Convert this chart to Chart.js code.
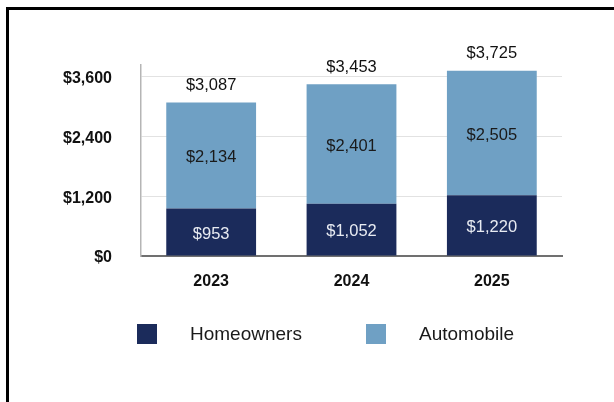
<!DOCTYPE html>
<html>
<head>
<meta charset="utf-8">
<script src="https://cdn.jsdelivr.net/npm/chart.js@4"></script>
<style>
  html, body { margin: 0; padding: 0; background: #fff; }
  body { width: 614px; height: 402px; position: relative; overflow: hidden; font-family: "Liberation Sans", Arial, sans-serif; }
  #frame { position: absolute; left: 6px; top: 7px; width: 700px; height: 500px; border: 3px solid #000; box-sizing: border-box; }
  #wrap { position: absolute; left: 0; top: 0; width: 614px; height: 402px; }
  .legend-item { position: absolute; top: 324px; height: 20px; }
  .legend-box { position: absolute; left: 0; top: 0; width: 20px; height: 20px; }
  .legend-text { position: absolute; top: -1px; font-size: 19px; line-height: 22px; color: #1a1a1a; white-space: nowrap; }
</style>
</head>
<body>
<div id="frame"></div>
<div id="wrap"><canvas id="chart" width="614" height="402"></canvas></div>
<div id="legend"></div>
<script>
// Premiums by line of business
const years = ['2023', '2024', '2025'];
const homeowners = [953, 1052, 1220];
const automobile = [2134, 2401, 2505];
const totals = [3087, 3453, 3725];
const yTicks = [0, 1200, 2400, 3600];

const NAVY = '#1b2b5b';
const SKY = '#6fa0c4';
const FONT = '"Liberation Sans", Arial, sans-serif';

const money = v => '$' + v.toLocaleString('en-US');

// ── VALUE LABELS ───────────────────────────────────────────────────────
const valueLabels = {
  id: 'valueLabels',
  afterDatasetsDraw(chart) {
    const ctx = chart.ctx;
    ctx.save();
    ctx.font = '16.5px ' + FONT;
    ctx.textAlign = 'center';
    ctx.textBaseline = 'middle';
    chart.data.datasets.forEach((ds, di) => {
      const meta = chart.getDatasetMeta(di);
      meta.data.forEach((bar, i) => {
        const mid = (bar.y + bar.base) / 2;
        ctx.fillStyle = di === 0 ? '#e8ebf2' : '#1a1a1a';
        ctx.fillText(money(ds.data[i]), bar.x, mid + 2);
      });
    });
    // totals above each stack
    const top = chart.getDatasetMeta(chart.data.datasets.length - 1);
    const y = chart.scales.y;
    ctx.fillStyle = '#111';
    top.data.forEach((bar, i) => {
      ctx.fillText(money(totals[i]), bar.x, y.getPixelForValue(totals[i]) - 17);
    });
    ctx.restore();
  }
};

const chart = new Chart(document.getElementById('chart'), {
  type: 'bar',
  data: {
    labels: years,
    datasets: [
      { label: 'Homeowners', data: homeowners, backgroundColor: NAVY },
      { label: 'Automobile', data: automobile, backgroundColor: SKY }
    ]
  },
  options: {
    responsive: false,
    animation: false,
    events: [],
    layout: { padding: { top: 65, right: 52, left: 0, bottom: 0 } },
    datasets: { bar: { categoryPercentage: 1, barPercentage: 0.64 } },
    plugins: { legend: { display: false }, tooltip: { enabled: false } },
    scales: {
      x: {
        stacked: true,
        grid: { display: false, drawTicks: false },
        border: { display: true, color: '#707070', width: 2 },
        ticks: {
          padding: 16,
          color: '#111',
          font: { family: FONT, size: 16, weight: 'bold' }
        },
        afterFit: s => { s.height = 146; }
      },
      y: {
        stacked: true,
        min: 0,
        max: 3840,
        afterBuildTicks: s => { s.ticks = yTicks.map(v => ({ value: v })); },
        grid: { color: '#e2e2e2', lineWidth: 1, drawTicks: false },
        border: { display: true, color: '#b5b5b5', width: 1.5 },
        ticks: {
          padding: 29,
          labelOffset: 2,
          color: '#111',
          font: { family: FONT, size: 16, weight: 'bold' },
          callback: v => money(v)
        },
        afterFit: s => { s.width = 141; }
      }
    }
  },
  plugins: [valueLabels]
});

// ── LEGEND ─────────────────────────────────────────────────────────────
const legendPos = [{ box: 137, text: 190 }, { box: 366, text: 419 }];
chart.data.datasets.forEach((ds, i) => {
  const item = document.createElement('div');
  item.className = 'legend-item';
  item.style.left = legendPos[i].box + 'px';
  item.innerHTML = `<div class="legend-box" style="background:${ds.backgroundColor}"></div>` +
    `<div class="legend-text" style="left:${legendPos[i].text - legendPos[i].box}px">${ds.label}</div>`;
  document.getElementById('legend').appendChild(item);
});
</script>
</body>
</html>
